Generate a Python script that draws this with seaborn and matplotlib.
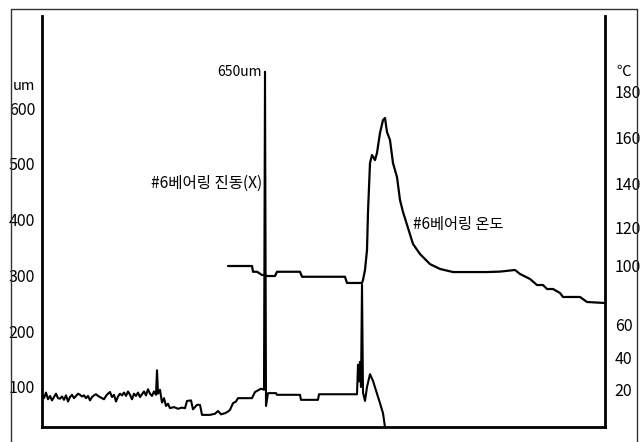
import numpy as np
import pandas as pd
import matplotlib
matplotlib.use("Agg")
import matplotlib.pyplot as plt
from matplotlib.lines import Line2D
import seaborn as sns

# ---------------- data ----------------
# time axis (arbitrary units)
vib_time = [42, 44, 46, 48, 50, 52, 54, 56, 58, 60, 62, 64, 66, 68, 70, 72, 74, 76, 78, 80,
            82, 84, 86, 88, 90, 92, 94, 96, 98, 100, 102, 104, 106, 108, 110, 112, 114, 116, 118, 120,
            122, 124, 126, 128, 130, 132, 134, 136, 138, 140, 142, 144, 146, 148, 150, 152, 154, 156, 157, 158,
            160, 162, 164, 166, 168, 170, 174, 178, 182, 185, 187, 191, 193, 197, 200, 202, 210, 215, 218, 221,
            225, 228, 230, 233, 236, 238, 252, 255, 258, 261, 264, 265, 266, 268, 276, 277, 300, 301, 318, 319,
            357, 358, 359, 360, 361, 362, 363, 365, 367, 370, 373, 377, 380, 383, 385]
vib_um = [86, 80, 90, 78, 84, 76, 82, 88, 80, 79, 83, 77, 85, 74, 82, 86, 80, 84, 88, 86,
          83, 85, 80, 84, 76, 82, 85, 87, 84, 82, 80, 78, 84, 88, 91, 82, 86, 74, 83, 88,
          85, 90, 84, 92, 86, 78, 88, 84, 90, 82, 87, 92, 85, 96, 88, 84, 92, 86, 130, 88,
          95, 72, 80, 66, 70, 62, 64, 61, 63, 62, 75, 76, 60, 68, 68, 50, 50, 52, 57, 51,
          53, 56, 59, 71, 74, 80, 80, 91, 94, 97, 95, 665, 66, 89, 89, 86, 86, 77, 77, 87,
          87, 140, 110, 145, 100, 283, 90, 75, 100, 123, 111, 88, 71, 53, 28]

temp_time = [228, 252, 253, 257, 262, 265, 267, 275, 277, 300, 302, 345, 347, 362, 363, 365, 367, 368,
             370, 372, 375, 377, 380, 383, 385, 387, 390, 393, 397, 400, 403, 408, 413, 420, 430, 440,
             453, 470, 487, 500, 515, 520, 530, 537, 543, 547, 553, 560, 563, 580, 587, 605]
temp_c = [100, 100, 96.1, 96.1, 93.9, 93.9, 93.2, 93.2, 96.1, 96.1, 92.7, 92.7, 88.5, 88.5, 90.5, 97.3, 108.4, 127.3,
          149.1, 152.6, 150.4, 153.5, 162.2, 167.8, 168.7, 162.6, 159.1, 149.1, 143.0, 132.7, 127.3, 120.0, 111.6, 106.3, 101.0, 98.0,
          95.9, 95.9, 95.9, 96.2, 97.3, 94.6, 91.2, 87.1, 87.1, 84.4, 84.4, 81.7, 79.0, 79.0, 75.6, 74.9]

um_ticks = [100, 200, 300, 400, 500, 600]
temp_ticks = [20, 40, 60, 100, 120, 140, 160, 180]

vib_df = pd.DataFrame({"time": vib_time, "um": vib_um})
temp_df = pd.DataFrame({"time": temp_time, "temp": temp_c})

# ---------------- style ----------------
sns.set_theme(style="white")
plt.rcParams["font.family"] = ["Liberation Sans Narrow", "Noto Sans CJK KR", "DejaVu Sans"]
KR = ["Noto Sans CJK KR", "DejaVu Sans"]

W, H = 640, 442
fig = plt.figure(figsize=(W / 100, H / 100), dpi=100)
ax = fig.add_axes([42 / W, (H - 427) / H, (605 - 42) / W, (427 - 16) / H])

sns.lineplot(data=vib_df, x="time", y="um", ax=ax, color="black", lw=1.5,
             estimator=None, sort=False)
ax.set_xlim(42, 605)
ax.set_ylim(28.3, 765)

# right axis: non-linear temperature scale as printed on the chart
T_anchor = np.array([-20, 20, 40, 60, 100, 120, 140, 160, 180, 260], dtype=float)
P_anchor = -np.array([454, 390, 358, 325, 266, 228, 184, 138, 92, -92], dtype=float)

def fwd(t):
    return np.interp(t, T_anchor, P_anchor)

def inv(p):
    return np.interp(p, P_anchor, T_anchor)

ax2 = ax.twinx()
ax2.set_yscale("function", functions=(fwd, inv))
sns.lineplot(data=temp_df, x="time", y="temp", ax=ax2, color="black", lw=1.6,
             estimator=None, sort=False)
ax2.set_ylim(float(inv(-427)), float(inv(-16)))
ax2.set_xlim(42, 605)

for a in (ax, ax2):
    a.set_xlabel("")
    a.set_ylabel("")
    a.set_xticks([])
    for s in a.spines.values():
        s.set_visible(False)

ax.spines["left"].set_visible(True)
ax.spines["bottom"].set_visible(True)
ax2.spines["right"].set_visible(True)
for s in (ax.spines["left"], ax.spines["bottom"], ax2.spines["right"]):
    s.set_color("black")
    s.set_linewidth(2.0)

ax.set_yticks(um_ticks)
ax.set_yticklabels([str(v) for v in um_ticks])
ax.tick_params(axis="y", length=0, pad=5, labelsize=11.5, colors="black")
ax2.set_yticks(temp_ticks)
ax2.set_yticklabels([str(v) for v in temp_ticks])
ax2.yaxis.set_minor_locator(matplotlib.ticker.NullLocator())
ax2.tick_params(axis="y", which="both", length=0, pad=7, labelsize=11.5, colors="black")

# unit labels
fig.text(13 / W, 1 - 86 / H, "um", ha="left", va="center", fontsize=10.5, color="black")
fig.text(616 / W, 1 - 72 / H, "℃", ha="left", va="center", fontsize=10.5, color="black",
         family=KR)

# annotations
ax.text(262, 665, "650um", ha="right", va="center", fontsize=10, color="black")
ax.text(262, 465, "#6베어링 진동(X)", ha="right", va="center", fontsize=11.2,
        color="black", family=KR)
ax.text(413, 392, "#6베어링 온도", ha="left", va="center", fontsize=11,
        color="black", family=KR)

# outer frame of the scanned figure
frame_kw = dict(color="#333333", lw=1.0, transform=fig.transFigure)
fig.add_artist(Line2D([11 / W, 637 / W], [1 - 9 / H, 1 - 9 / H], **frame_kw))
fig.add_artist(Line2D([11 / W, 11 / W], [0, 1 - 9 / H], **frame_kw))
fig.add_artist(Line2D([637 / W, 637 / W], [0, 1 - 9 / H], **frame_kw))

fig.savefig("out.png", dpi=100, facecolor="white")
